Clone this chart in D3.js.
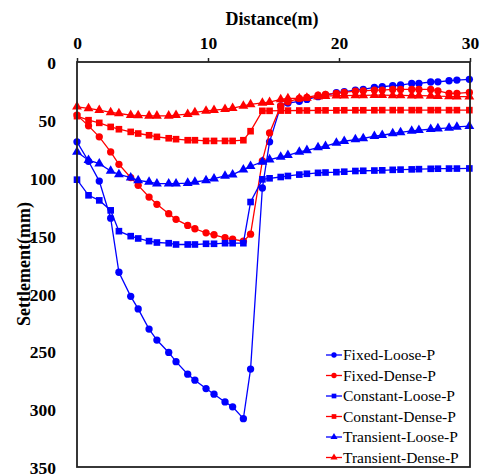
<!DOCTYPE html>
<html>
<head>
<meta charset="utf-8">
<script src="https://cdn.jsdelivr.net/npm/d3@7"></script>
<style>
  body { margin: 0; background: #fff; }
  text { font-family: "Times New Roman", "Liberation Serif", serif; }
</style>
</head>
<body>
<script>
// distance of the nodes (m)
var dist = [0, 0.88, 1.7, 2.57, 3.2, 4.1, 4.67, 5.5, 6.1, 7.0, 7.56, 8.45, 9.0, 9.85, 10.46, 11.3, 11.88, 12.7, 13.25,
  14.15, 14.7, 15.55, 16.1, 16.97, 17.55, 18.4, 18.97, 19.8, 20.4, 21.25, 21.85, 22.7, 23.3, 24.1, 24.7, 25.55, 26.1,
  27.0, 27.55, 28.4, 29.0, 29.95];

// settlement (mm)
var fixedLoose = [69, 85.8, 102.9, 135, 181.7, 202.5, 213.4, 230.8, 240.3, 251, 259, 269.8, 275, 282.2, 287.1, 293.8, 298, 308.2, 265.4,
  108.9, 69, 38, 35.5, 34, 32.3, 30, 28.6, 26.6, 25.7, 24.3, 23.7, 21.9, 21.4, 20.5, 19.9, 18.5, 18.5, 17.3, 17.1, 16.2, 15.6, 15];
var fixedDense = [45.9, 55.2, 64.7, 77.7, 88.4, 99.9, 106.6, 116.7, 123, 131.1, 136, 141.2, 144.1, 147.6, 149.3, 151.9, 153.1, 154.9, 148.8,
  85.5, 61.3, 38, 34.4, 31.5, 30.6, 28.6, 28, 27.1, 26.3, 25.1, 24.9, 24.3, 24.3, 23.7, 23.7, 23.7, 23.7, 23.7, 24.9, 27.1, 27.1, 26.3];
var constLoose = [101.7, 115.2, 119.6, 128.2, 146.2, 150.5, 152.5, 154.8, 156, 156.6, 157.7, 157.7, 157.7, 157.1, 157.1, 156.6, 156.6, 156.6, 121,
  101.4, 100.5, 99.4, 98.5, 97.3, 96.6, 95.8, 95.5, 95.2, 94.8, 94.2, 94, 93.8, 93.6, 93.2, 93, 92.8, 92.6, 92.3, 92.2, 92.1, 92.1, 92];
var constDense = [46.8, 50.3, 52.6, 56.1, 58.1, 60.4, 61.8, 63.3, 64.7, 65.9, 66.7, 67.6, 67.6, 68.2, 68.2, 68.2, 68.2, 67.6, 59.8,
  42.2, 42.2, 42, 42, 41.9, 41.9, 41.8, 41.8, 41.8, 41.7, 41.7, 41.7, 41.7, 41.6, 41.6, 41.6, 41.6, 41.6, 41.6, 41.6, 41.6, 41.6, 41.6];
var transLoose = [77.7, 84.9, 87.8, 94.2, 97.1, 99.9, 102.3, 103.7, 105.1, 105.1, 105.1, 104.6, 103.7, 102.3, 100.8, 98.5, 97.3, 93, 90.1,
  86.4, 84.3, 82.1, 80.6, 77.7, 76.3, 73.9, 72.8, 69.9, 68.5, 67, 66.1, 64.1, 63.3, 61.8, 60.9, 59.5, 58.9, 58.1, 57.5, 56.9, 56.1, 55.5];
var transDense = [38.7, 40.1, 41.6, 43.6, 44.5, 45.9, 46.2, 46.5, 46.5, 46.5, 45.9, 45, 43.6, 42.2, 41.6, 40.8, 39.9, 37.9, 36.7,
  35.3, 34.7, 32.3, 31.4, 31.5, 31, 30, 29.5, 29, 29, 28.8, 28.8, 28.6, 28.6, 28.8, 28.8, 29, 29, 29.2, 29.5, 29.7, 29.9, 30];

var seriesNames = ["Fixed-Loose-P", "Fixed-Dense-P", "Constant-Loose-P", "Constant-Dense-P", "Transient-Loose-P", "Transient-Dense-P"];
var seriesValues = [fixedLoose, fixedDense, constLoose, constDense, transLoose, transDense];
var seriesColors = ["#0000ff", "#ff0000", "#0000ff", "#ff0000", "#0000ff", "#ff0000"];
var seriesShapes = [d3.symbolCircle, d3.symbolCircle, d3.symbolSquare, d3.symbolSquare, d3.symbolTriangle, d3.symbolTriangle];

var xTicks = [0, 10, 20, 30];
var yTicks = [0, 50, 100, 150, 200, 250, 300, 350];

const svg = d3.select('body').append('svg')
    .attr('width', 481)
    .attr('height', 474);

var x = d3.scaleLinear().domain([0, 30]).range([77, 470]);
var y = d3.scaleLinear().domain([0, 350]).range([62, 467]);

var serif = '"Times New Roman", "Liberation Serif", serif';

// lines + markers
var line = d3.line()
    .x((d, i) => x(d.x))
    .y((d, i) => y(d.y));

seriesValues.forEach(function(vals, s) {
    var pts = vals.map((v, i) => ({x: dist[i], y: v}));
    var g = svg.append('g');
    g.append('path')
        .datum(pts)
        .attr('fill', 'none')
        .attr('stroke', seriesColors[s])
        .attr('stroke-width', 1.3)
        .attr('d', line);
    g.selectAll('path.m')
        .data(pts)
        .enter()
    .append('path')
        .attr('class', 'm')
        .attr('fill', seriesColors[s])
        .attr('d', d3.symbol().type(seriesShapes[s]).size(seriesShapes[s] == d3.symbolSquare ? 44 : 42))
        .attr('transform', d => 'translate(' + x(d.x) + ',' + y(d.y) + ')');
});

// frame
svg.append('rect')
    .attr('x', 77).attr('y', 62)
    .attr('width', 393).attr('height', 405)
    .attr('fill', 'none')
    .attr('stroke', '#222')
    .attr('stroke-width', 1.8);

// top axis
var xAxis = d3.axisTop(x).tickValues(xTicks).tickSize(4).tickPadding(9).tickFormat(d3.format('d'));
var gx = svg.append('g').attr('transform', 'translate(0,62)').call(xAxis);
gx.select('.domain').remove();
gx.selectAll('line').attr('stroke', '#222').attr('stroke-width', 1.5);
gx.selectAll('text')
    .attr('font-size', 17.5)
    .attr('font-weight', 'bold')
    .attr('fill', '#000')
    .style('font-family', serif);

// left axis (labels only)
var yAxis = d3.axisLeft(y).tickValues(yTicks).tickSize(0).tickPadding(21);
var gy = svg.append('g').attr('transform', 'translate(77,0)').call(yAxis);
gy.select('.domain').remove();
gy.selectAll('text')
    .attr('font-size', 17.5)
    .attr('font-weight', 'bold')
    .attr('fill', '#000')
    .attr('dy', '0.38em')
    .style('font-family', serif);

// titles
svg.append('text')
    .attr('x', 272).attr('y', 25)
    .attr('text-anchor', 'middle')
    .attr('font-size', 18)
    .attr('font-weight', 'bold')
    .text('Distance(m)');

svg.append('text')
    .attr('transform', 'translate(30,264) rotate(-90)')
    .attr('text-anchor', 'middle')
    .attr('font-size', 18)
    .attr('font-weight', 'bold')
    .text('Settlement(mm)');

// legend
var legend = svg.append('g');
seriesNames.forEach(function(name, s) {
    var ly = 355 + s * 20.5;
    legend.append('line')
        .attr('x1', 326).attr('x2', 342)
        .attr('y1', ly).attr('y2', ly)
        .attr('stroke', seriesColors[s])
        .attr('stroke-width', 1.3);
    legend.append('path')
        .attr('fill', seriesColors[s])
        .attr('d', d3.symbol().type(seriesShapes[s]).size(22))
        .attr('transform', 'translate(334,' + ly + ')');
    legend.append('text')
        .attr('x', 343).attr('y', ly + 5)
        .attr('font-size', 15.5)
        .text(name);
});
</script>
</body>
</html>
